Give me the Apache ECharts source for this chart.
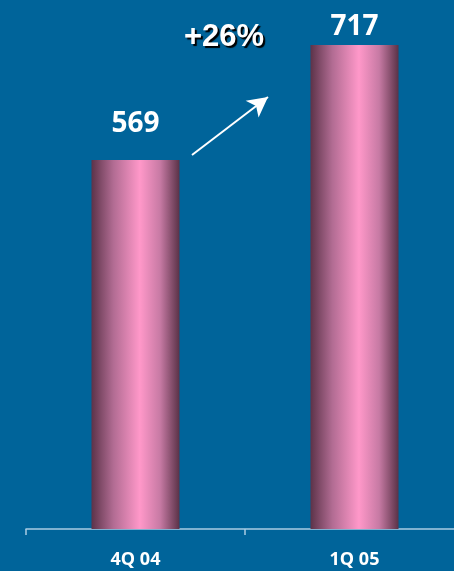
<!DOCTYPE html>
<html>
<head>
<meta charset="utf-8">
<script src="https://cdn.jsdelivr.net/npm/echarts@6/dist/echarts.min.js"></script>
<style>
body { margin: 0px; background: #00649a; }
#main { width: 454px; height: 571px; }
</style>
</head>
<body>
<div id="main"></div>
<script>
var categories = ['4Q 04', '1Q 05'];
var values = [569, 717];
var growthLabel = '+26%';

var myChart = echarts.init(document.getElementById('main'));

var barColor = new echarts.graphic.LinearGradient(0, 0, 1, 0, [
	{ offset: 0, color: '#5c3349' },
	{ offset: 0.25, color: '#b26c93' },
	{ offset: 0.55, color: '#ff98c9' },
	{ offset: 0.78, color: '#c77aa4' },
	{ offset: 1, color: '#5a3247' }
]);

var option = {
	backgroundColor: '#00649a',
	grid: {
		left: 26,
		width: 438,
		top: 45,
		bottom: 42,
		outerBoundsMode: 'none',
		containLabel: false
	},
	xAxis: {
		type: 'category',
		data: categories,
		axisLine: { lineStyle: { color: '#a9cbe3', width: 1.5 } },
		axisTick: { show: true, length: 6, alignWithLabel: false, lineStyle: { color: '#a9cbe3', width: 1.5 } },
		axisLabel: {
			color: '#ffffff',
			fontFamily: 'Open Sans',
			fontWeight: 'bold',
			fontSize: 18,
			margin: 22
		}
	},
	yAxis: {
		type: 'value',
		min: 94,
		max: 717,
		show: false
	},
	series: [
		{
			type: 'bar',
			barWidth: 88,
			data: [
				{ value: values[0], label: { distance: 22 } },
				{ value: values[1], label: { distance: 4 } }
			],
			itemStyle: { color: barColor },
			label: {
				show: true,
				position: 'top',
				color: '#ffffff',
				fontFamily: 'Open Sans',
				fontWeight: 'bold',
				fontSize: 28
			},
			markLine: {
				silent: true,
				animation: false,
				label: { show: false },
				lineStyle: { color: '#ffffff', width: 2, type: 'solid' },
				symbolSize: [16, 20],
				data: [
					[
						{ x: 192, y: 155, symbol: 'none' },
						{ x: 268, y: 97, symbol: 'arrow' }
					]
				]
			}
		}
	],
	graphic: [
		{
			type: 'text',
			left: 184,
			top: 22,
			style: {
				text: growthLabel,
				fill: '#ffffff',
				font: 'bold 31px "Liberation Sans"',
				textShadowColor: '#000000',
				textShadowOffsetX: 2,
				textShadowOffsetY: 2,
				textShadowBlur: 1,
				shadowColor: '#000000',
				shadowOffsetX: 2,
				shadowOffsetY: 2,
				shadowBlur: 1
			}
		}
	]
};

myChart.setOption(option);
</script>
</body>
</html>
